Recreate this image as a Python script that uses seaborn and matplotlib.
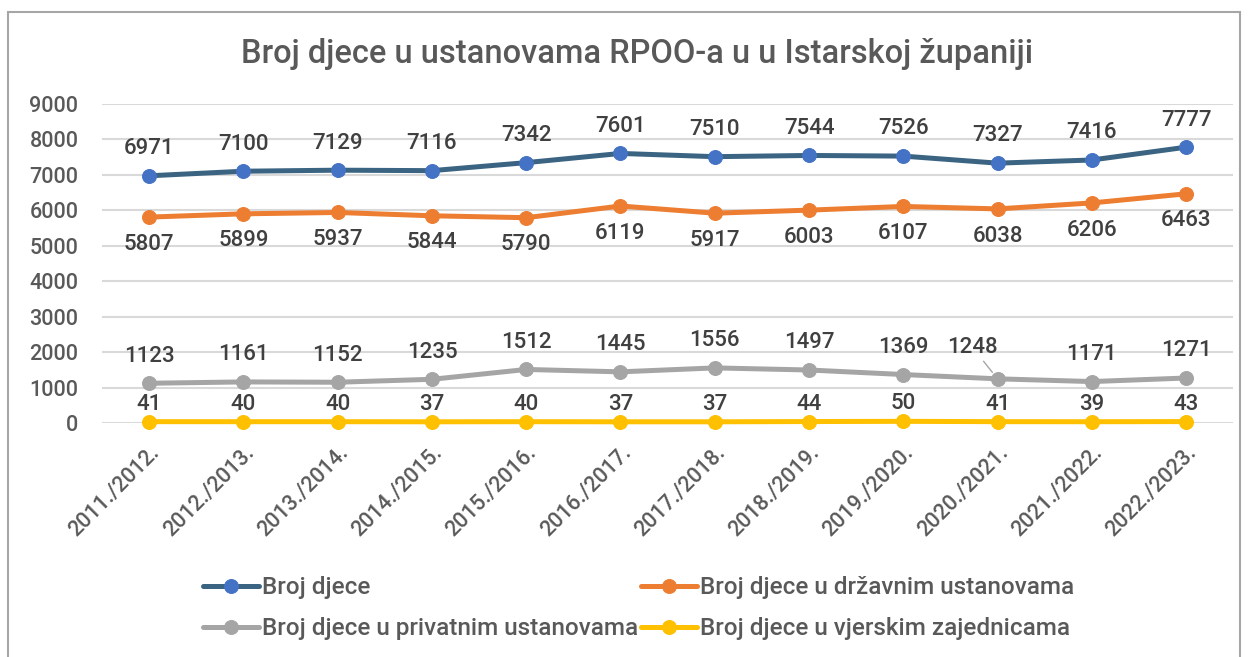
import pandas as pd
import matplotlib.pyplot as plt
import seaborn as sns
from matplotlib.patches import Rectangle

seasons = ['2011./2012.', '2012./2013.', '2013./2014.', '2014./2015.', '2015./2016.', '2016./2017.',
           '2017./2018.', '2018./2019.', '2019./2020.', '2020./2021.', '2021./2022.', '2022./2023.']
ukupno = [6971, 7100, 7129, 7116, 7342, 7601, 7510, 7544, 7526, 7327, 7416, 7777]
drzavne = [5807, 5899, 5937, 5844, 5790, 6119, 5917, 6003, 6107, 6038, 6206, 6463]
privatne = [1123, 1161, 1152, 1235, 1512, 1445, 1556, 1497, 1369, 1248, 1171, 1271]
vjerske = [41, 40, 40, 37, 40, 37, 37, 44, 50, 41, 39, 43]
names = ['Broj djece', 'Broj djece u državnim ustanovama',
         'Broj djece u privatnim ustanovama', 'Broj djece u vjerskim zajednicama']
title = 'Broj djece u ustanovama RPOO-a u u Istarskoj županiji'

sns.set_theme(style='white')
plt.rcParams['font.family'] = ['Roboto', 'DejaVu Sans']
plt.rcParams['font.weight'] = 'medium'
txt = '#595959'
lbl = '#404040'

fig = plt.figure(figsize=(12.52, 6.57), dpi=100)
ax = fig.add_axes([0.0815, 0.356, 0.9035, 0.486])

series = [
    (ukupno, names[0], '#3A6482', '#4472C4', 12),
    (drzavne, names[1], '#ED7D31', '#ED7D31', -12),
    (privatne, names[2], '#A5A5A5', '#A5A5A5', 12),
    (vjerske, names[3], '#FFC000', '#FFC000', 5),
]
pos = list(range(len(seasons)))
for vals, name, lc, mc, off in series:
    sns.lineplot(x=pos, y=vals, ax=ax, color=lc, linewidth=3.6, marker='o', markersize=10,
                 markerfacecolor=mc, markeredgecolor=mc, label=name, sort=False, clip_on=False)
    for i, v in enumerate(vals):
        if vals is privatne and i == 9:
            ax.annotate(str(v), (i, v), xytext=(-18, 15), textcoords='offset points',
                        ha='center', va='bottom', fontsize=16, color=lbl,
                        arrowprops=dict(arrowstyle='-', color='#A5A5A5', lw=1, shrinkA=0, shrinkB=6))
            continue
        ax.annotate(str(v), (i, v), xytext=(0, off), textcoords='offset points', ha='center',
                    va='bottom' if off > 0 else 'top', fontsize=16, color=lbl)

ax.set_xlim(-0.5, len(seasons) - 0.5)
ax.set_ylim(0, 9000)
ax.set_yticks(range(0, 9001, 1000))
ax.set_xticks(pos)
ax.set_xticklabels(seasons, rotation=45, ha='right', rotation_mode='anchor')
ax.tick_params(axis='both', labelsize=15.5, colors=txt, length=0)
ax.tick_params(axis='y', pad=17)
ax.tick_params(axis='x', pad=14)
ax.yaxis.grid(True, color='#D9D9D9', linewidth=1.5)
ax.set_axisbelow(True)
for s in ax.spines.values():
    s.set_visible(False)
ax.set_xlabel('')
ax.set_ylabel('')

ax.get_legend().remove()
h, l = ax.get_legend_handles_labels()
order = [0, 2, 1, 3]
fig.legend([h[i] for i in order], [l[i] for i in order], ncol=2, loc='center',
           bbox_to_anchor=(0.51, 0.074), frameon=False,
           fontsize=17.5, labelcolor=txt, handlelength=2.3, handletextpad=0.1,
           columnspacing=0.15, labelspacing=0.75)

fig.text(0.509, 0.918, title, ha='center', va='center', fontsize=23.5, color=txt)
fig.add_artist(Rectangle((8 / 1252, -0.01), 1232 / 1252, 1 - 12 / 657 + 0.01, transform=fig.transFigure,
                         fill=False, edgecolor='#A6A6A6', linewidth=1.5))

fig.savefig('out.png', dpi=100)
